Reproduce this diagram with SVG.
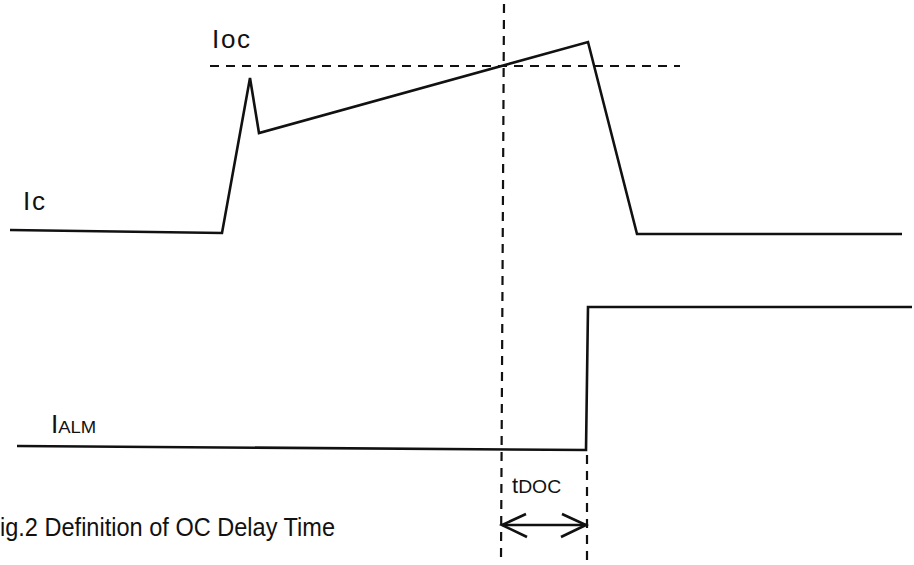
<svg xmlns="http://www.w3.org/2000/svg" width="914" height="565" viewBox="0 0 914 565">
<style>
.w{fill:none;stroke:#111;stroke-width:2.6;stroke-linejoin:miter}
.d{fill:none;stroke:#111;stroke-width:2.2;stroke-dasharray:9 7}
.t{font-family:"Liberation Sans",Arial,sans-serif;fill:#111}
</style>
<rect width="914" height="565" fill="#fff"/>
<g id="connectors">
<polyline class="w" points="10,230 222,233 250,78 259,133 588,42 637,234 902,234"/>
<polyline class="w" points="17,446 586,450 588,307 912,307"/>
<line class="d" x1="210" y1="66" x2="680" y2="66"/>
<line class="d" x1="504" y1="4" x2="501" y2="560"/>
<line class="d" x1="587" y1="455" x2="587" y2="560"/>
<g id="arrow">
<line class="w" x1="502" y1="525" x2="586" y2="525" stroke-width="2.2"/>
<polyline class="w" points="526,514 502,525 527,537" stroke-width="2"/>
<polyline class="w" points="562,514 586,525 561,537" stroke-width="2"/>
</g>
</g>
<g id="labels">
<text class="t" x="212" y="48" font-size="26" textLength="38" lengthAdjust="spacing">Ioc</text>
<text class="t" x="23" y="210" font-size="26" textLength="22" lengthAdjust="spacing">Ic</text>
<text class="t" x="51" y="433" font-size="26">I<tspan font-size="16" textLength="38" lengthAdjust="spacingAndGlyphs">ALM</tspan></text>
<text class="t" x="512" y="493" font-size="22">t<tspan font-size="18" textLength="43" lengthAdjust="spacingAndGlyphs">DOC</tspan></text>
<text class="t" x="0" y="536" font-size="25" textLength="335" lengthAdjust="spacingAndGlyphs">ig.2 Definition of OC Delay Time</text>
</g>
</svg>
